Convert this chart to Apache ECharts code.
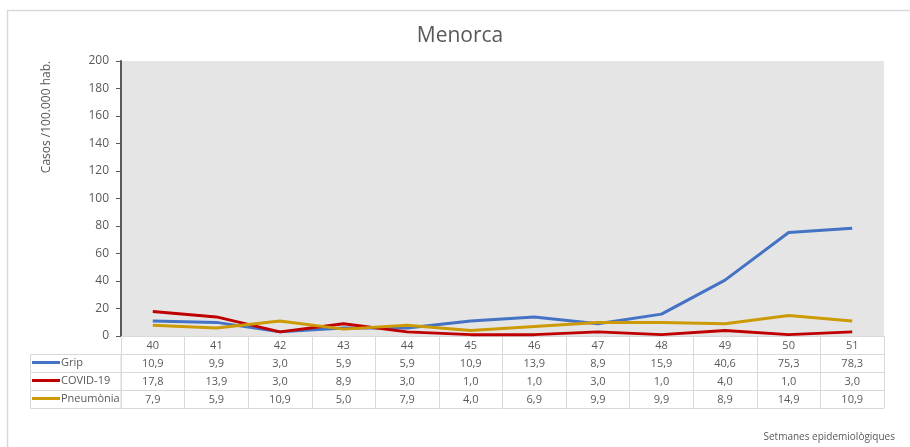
<!DOCTYPE html>
<html><head><meta charset="utf-8">
<script src="https://cdn.jsdelivr.net/npm/echarts@6/dist/echarts.min.js"></script>
<style>html,body{margin:0;padding:0;background:#fff}#c{width:910px;height:447px}</style>
</head><body><div id="c"></div>
<script>
const weeks = ['40','41','42','43','44','45','46','47','48','49','50','51'];
const grip = [10.9, 9.9, 3.0, 5.9, 5.9, 10.9, 13.9, 8.9, 15.9, 40.6, 75.3, 78.3];
const covid = [17.8, 13.9, 3.0, 8.9, 3.0, 1.0, 1.0, 3.0, 1.0, 4.0, 1.0, 3.0];
const pneumonia = [7.9, 5.9, 10.9, 5.0, 7.9, 4.0, 6.9, 9.9, 9.9, 8.9, 14.9, 10.9];
const seriesNames = ['Grip', 'COVID-19', 'Pneumònia'];
const colors = ['#4472c4', '#c00000', '#cc9a06'];
const yTicks = {min: 0, max: 200, interval: 20};

const FONT = "'Open Sans', sans-serif";
const TXT = '#595959';
const BORDER = '#d9d9d9';
const G = {left: 121, right: 26, top: 61, bottom: 111};
const ROW = 18;
const fmt = v => v.toFixed(1).replace('.', ',');
const allSeries = [grip, covid, pneumonia];

function tableAxis(data, row, showLabel) {
  return {
    type: 'category', position: 'bottom', offset: row * ROW, data: data,
    axisLine: {show: true, lineStyle: {color: BORDER, width: 1}},
    axisTick: {show: true, interval: 0, length: ROW, lineStyle: {color: BORDER}},
    axisLabel: {show: showLabel, interval: 0, color: TXT, fontSize: 11, fontFamily: FONT, margin: 4},
    splitLine: {show: false}
  };
}
const xAxes = [tableAxis(weeks, 0, true)];
allSeries.forEach((s, i) => xAxes.push(tableAxis(s.map(fmt), i + 1, true)));
xAxes.push(Object.assign(tableAxis(weeks, 4, false), {axisTick: {show: false}}));

const H = 447;
const tableTop = H - G.bottom;
const legends = seriesNames.map((n, i) => ({
  orient: 'horizontal', left: 32, top: tableTop + ROW * (i + 1) + 3,
  itemWidth: 28, itemHeight: 3, icon: 'rect', padding: 0,
  textStyle: {color: TXT, fontSize: 11, fontFamily: FONT, padding: [0, 0, 0, -4]},
  data: [n]
}));

const chart = echarts.init(document.getElementById('c'));
chart.setOption({
  animation: false,
  textStyle: {fontFamily: FONT},
  legend: legends,
  grid: {left: G.left, right: G.right, top: G.top, bottom: G.bottom, show: true,
    backgroundColor: '#e5e5e5', borderWidth: 0},
  xAxis: xAxes,
  yAxis: {
    type: 'value', min: yTicks.min, max: yTicks.max, interval: yTicks.interval,
    axisLine: {show: true, lineStyle: {color: '#595959', width: 2}},
    axisTick: {show: true, length: 5, lineStyle: {color: '#595959'}},
    axisLabel: {color: TXT, fontSize: 12, fontFamily: FONT, margin: 12},
    splitLine: {show: false}
  },
  series: allSeries.map((d, i) => ({
    name: seriesNames[i], type: 'line', xAxisIndex: 0, data: d, symbol: 'none',
    lineStyle: {color: colors[i], width: 3}, itemStyle: {color: colors[i]}
  })),
  graphic: [
    {type: 'rect', silent: true, z: -10, shape: {x: 7.5, y: 10.5, width: 1000, height: 1000},
      style: {fill: 'none', stroke: BORDER, lineWidth: 1.5}},
    {type: 'rect', silent: true, shape: {x: 30.5, y: tableTop + ROW + 0.5, width: G.left - 30.5, height: ROW * 3},
      style: {fill: 'none', stroke: BORDER, lineWidth: 1}},
    {type: 'line', silent: true, shape: {x1: 30.5, y1: tableTop + 2 * ROW + 0.5, x2: G.left, y2: tableTop + 2 * ROW + 0.5},
      style: {stroke: BORDER, lineWidth: 1}},
    {type: 'line', silent: true, shape: {x1: 30.5, y1: tableTop + 3 * ROW + 0.5, x2: G.left, y2: tableTop + 3 * ROW + 0.5},
      style: {stroke: BORDER, lineWidth: 1}},
    {type: 'text', silent: true, x: 460, y: 36,
      style: {text: 'Menorca', fill: TXT, font: "21px 'Open Sans'", align: 'center', verticalAlign: 'middle'}},
    {type: 'text', silent: true, x: 47, y: 117, rotation: Math.PI / 2,
      style: {text: 'Casos /100.000 hab.', fill: TXT, font: "12px 'Open Sans'", align: 'center', verticalAlign: 'middle'}},
    {type: 'text', silent: true, right: 15, top: 432,
      style: {text: 'Setmanes epidemiològiques', fill: TXT, font: "10px 'Open Sans'"}}
  ]
});
</script></body></html>
